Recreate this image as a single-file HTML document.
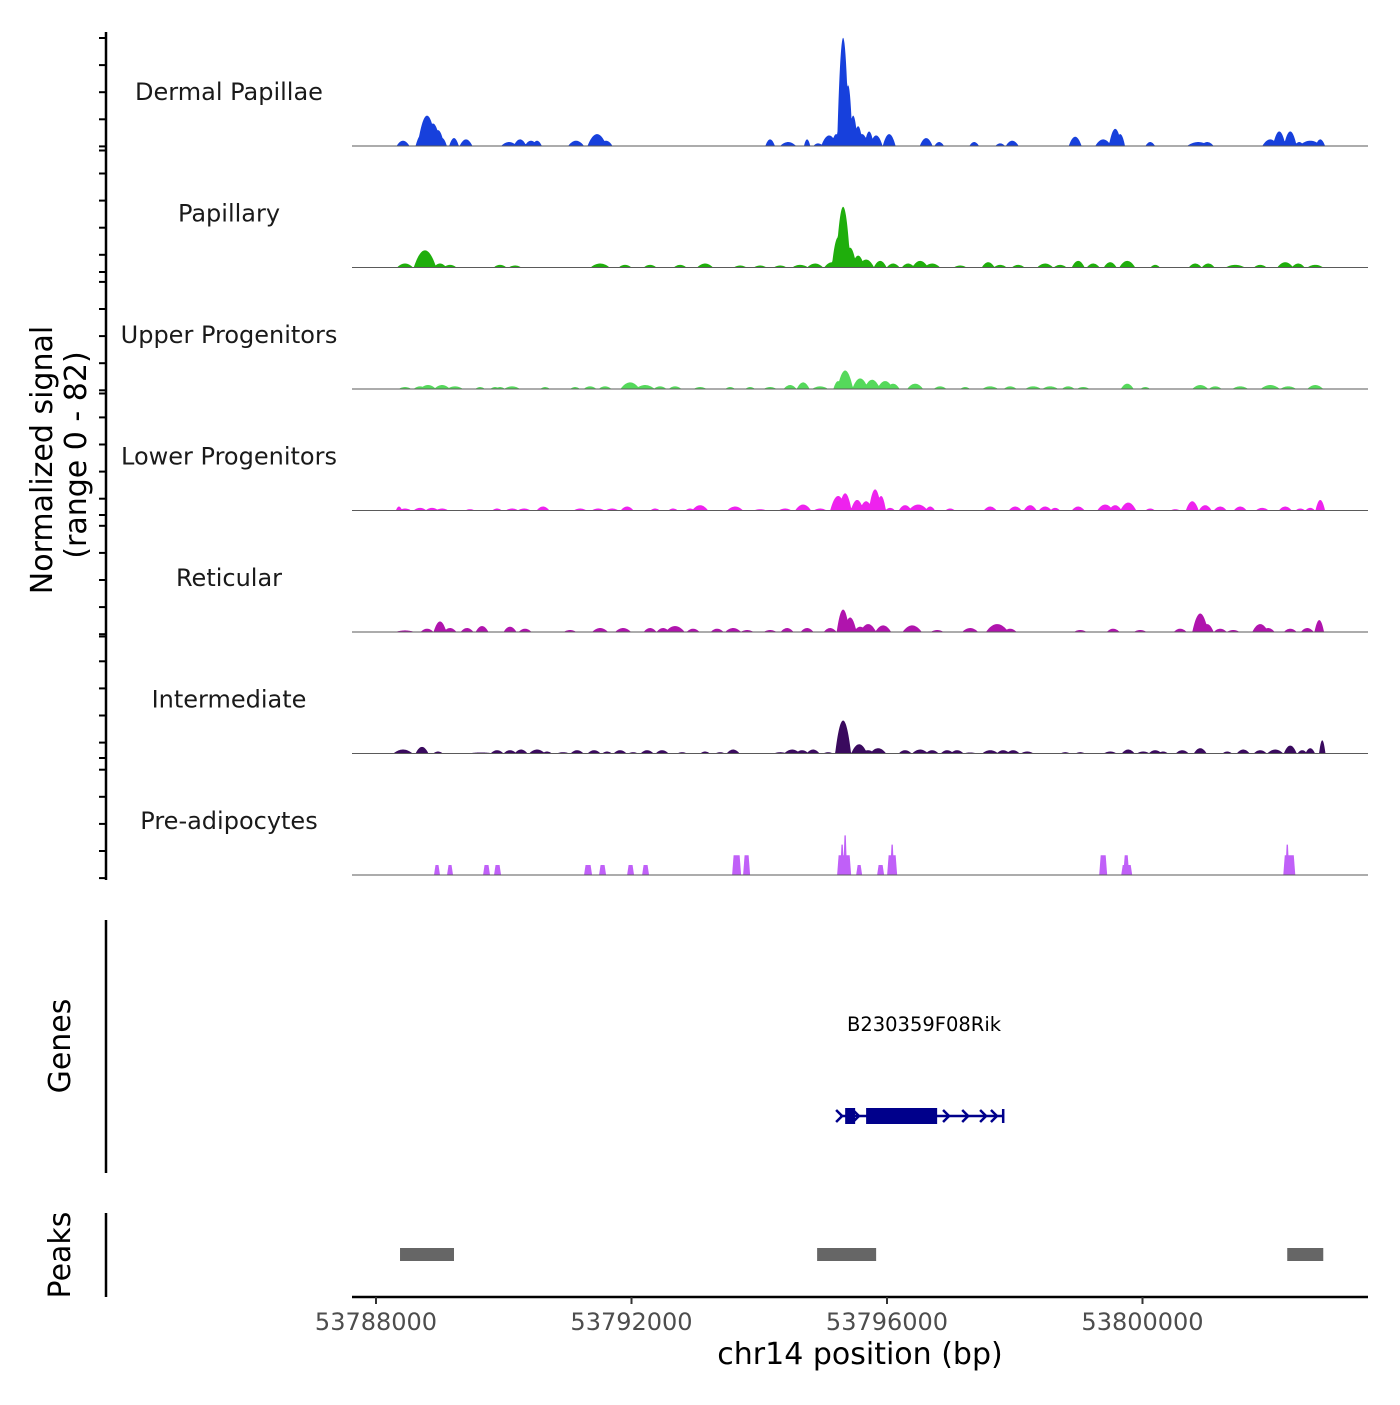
<!DOCTYPE html>
<html><head><meta charset="utf-8"><style>
body{margin:0;background:#fff}
svg text{font-family:"DejaVu Sans","Liberation Sans",sans-serif}
</style></head><body>
<svg id="chart" width="1400" height="1400" viewBox="0 0 1400 1400" xmlns="http://www.w3.org/2000/svg">
<rect width="1400" height="1400" fill="#fff"/>
<text transform="translate(52,460) rotate(-90)" text-anchor="middle" font-size="30" fill="#000">Normalized signal</text>
<text transform="translate(86,455) rotate(-90)" text-anchor="middle" font-size="30" fill="#000">(range 0 - 82)</text>
<line x1="106" y1="32" x2="106" y2="880" stroke="#000" stroke-width="2.5"/>
<line x1="106" y1="920" x2="106" y2="1173" stroke="#000" stroke-width="2.5"/>
<line x1="106" y1="1213" x2="106" y2="1297" stroke="#000" stroke-width="2.5"/>
<text transform="translate(70,1046) rotate(-90)" text-anchor="middle" font-size="30">Genes</text>
<text transform="translate(70,1255) rotate(-90)" text-anchor="middle" font-size="30">Peaks</text>
<g id="tracks"></g>
<g id="genes"></g>
<g id="peaks"></g>
<line x1="352" y1="1297" x2="1368" y2="1297" stroke="#000" stroke-width="2.5"/>
<g id="xaxis"></g>
<text x="860" y="1364" text-anchor="middle" font-size="30">chr14 position (bp)</text>
</svg>
<script>
// region origin: chr14:53788000 ; positions are bp offsets from it
const ORIGIN = 53788000;
const trackNames = ["Dermal Papillae","Papillary","Upper Progenitors","Lower Progenitors","Reticular","Intermediate","Pre-adipocytes"];
const trackColors = ["#1740dc","#1fae0c","#55d95b","#ee22ee","#b014ad","#3a0a5e","#c060f8"];
const xTicks = [53788000,53792000,53796000,53800000];
// Peak summits (bp offset), signal value, half-width (bp)
const dpPos = [423,720,799,893,971,1034,1221,1409,2083,2255,2427,2521,3132,3461,3602,6170,6452,6749,6922,7094,7204,7313,7392,7470,7548,7611,7720,7830,8034,8613,8817,9365,9772,9960,10946,11385,11573,11651,12121,12873,13013,14000,14141,14313,14454,14626,14783];
const dpVal = [4,9,23,17,12,6,6,5,3,5,4,4,4,9,4,5,3,5,2,8,9,82,46,23,15,9,11,8,9,6,3,3,2,4,7,5,13,9,3,3,3,5,11,11,3,4,5];
const dpWid = [63,63,94,78,63,47,47,63,78,63,63,47,78,94,63,47,78,31,47,78,47,63,47,47,47,63,47,63,63,63,47,47,47,63,63,78,63,47,47,110,63,78,63,63,47,110,47];
const paPos = [454,767,1002,1159,1942,2177,3508,3899,4291,4761,5152,5700,6013,6327,6640,6875,7141,7235,7313,7423,7548,7673,7893,8096,8331,8519,8707,9145,9584,9772,10054,10476,10711,10993,11228,11494,11761,12199,12825,13029,13452,13843,14235,14438,14705];
const paVal = [3,13,3,2,2,1.5,3,2,2,2,3,1.5,1.5,1.5,2,3,4,23,46,15,9,6,5,3,3,5,3,1.5,4,2,2,3,2,5,3,4,5,2,3,3,2,2,4,3,2];
const paWid = [78,110,63,63,63,63,94,63,63,63,78,63,63,63,78,78,78,63,78,63,63,78,63,63,63,78,78,63,63,63,63,78,63,63,63,63,78,47,63,63,94,63,78,63,78];
const upPos = [454,689,814,1034,1237,1629,1864,1942,2130,2647,3116,3351,3586,3978,4213,4447,4682,5074,5544,5857,6170,6483,6687,6953,7235,7345,7580,7767,7971,8096,8441,8832,9224,9615,9928,10289,10555,10837,11072,11761,12043,12904,13139,13530,14000,14282,14705];
const upVal = [1.5,2,3,3,2,1.5,1.5,1.5,2,1.5,1.5,2,2,5,3,2,2,1.5,1.5,1.5,1.5,3,5,2,6,14,8,7,6,4,4,2,1.5,2,2,2,2,2,1.5,4,1.5,3,2,2,3,2,3];
const upWid = [63,63,78,78,78,47,47,47,78,47,47,63,63,94,94,63,63,63,47,47,63,63,63,78,47,78,78,78,78,63,78,63,47,78,63,78,78,63,63,63,47,78,63,78,94,78,78];
const loPos = [360,454,689,877,1034,1472,1895,2130,2318,2615,3195,3477,3696,3931,4369,4651,4917,5074,5622,6013,6405,6687,6953,7235,7345,7533,7673,7814,7908,8049,8284,8488,8676,8989,9615,10007,10242,10476,10633,10993,11416,11573,11777,12121,12512,12779,12982,13217,13530,13874,14235,14470,14626,14783];
const loVal = [3,1.5,2,2,1.5,1,1.5,1.5,1.5,3,1.5,1.5,1.5,3,1.5,1.5,1.5,4,3,1,1.5,4.5,1.5,11,13,8,7,16,11,2,4,4.5,3,1.5,3,3,4,3,2,3,4.5,4,6,1.5,1,7,4,3,3,2,3,1.5,2,8];
const loWid = [31,63,63,63,63,47,47,63,63,63,63,63,63,63,47,47,47,78,78,63,63,78,63,78,63,63,63,63,47,47,63,94,47,47,63,63,63,63,47,63,78,63,78,47,47,63,63,63,63,63,63,47,47,47];
const rePos = [454,799,1002,1159,1425,1660,2098,2333,3038,3508,3868,4291,4494,4682,4964,5340,5591,5810,6170,6436,6749,7110,7313,7423,7580,7705,7940,8394,8785,9302,9725,9928,11025,11541,11964,12590,12904,13013,13217,13421,13843,13968,14313,14580,14767];
const reVal = [1.2,2.5,8,3,3,4.5,4,2.5,1.5,3,3,3,3,4.5,2.5,2.5,3,1.5,1.5,3,3,3,17,11,4,6,5,5,1.5,3,6,2.5,1.5,2.5,1.5,2.5,14,6,2.5,1.5,6,3,2.5,3,9];
const reWid = [94,63,63,63,63,63,63,63,63,78,78,63,63,94,63,63,78,63,63,63,63,63,63,63,63,78,78,94,63,78,110,63,63,63,63,63,78,63,63,63,78,63,63,63,47];
const inPos = [423,720,971,1644,1895,2098,2271,2521,2678,2928,3148,3414,3617,3821,4025,4244,4479,4792,5152,5387,5591,6327,6515,6671,6843,7078,7313,7564,7705,7861,8284,8519,8707,8942,9098,9302,9615,9819,9975,10195,10790,11025,11494,11776,12011,12199,12324,12622,12904,13327,13577,13843,14078,14313,14501,14626,14814];
const inVal = [3,5,1.5,0.8,2.5,2.5,3,3,1.5,1,2.5,2.5,1.5,2.5,1,2.5,2.5,1,1.5,1,3,1,3,2.5,3,1,25,7,2.5,4,2.5,3,2.5,2.5,2.5,0.8,2.5,2.5,2.5,1.5,1,1,1.5,3,1.5,2.5,1.5,2.5,4,1.5,3,2.5,3,6,2.5,4,10];
const inWid = [94,63,47,125,63,63,63,78,47,63,63,63,47,63,47,63,63,47,47,47,63,63,78,63,63,47,78,78,63,78,63,78,63,63,63,63,78,63,63,63,47,47,63,63,63,63,47,63,63,47,63,63,78,63,47,47,31];
// Pre-adipocytes: flat blocks (start bp, end bp, value)
const adStart = [908,1112,1676,1848,3257,3492,3931,4166,5575,5747,7219,7266,7313,7517,7845,8002,8049,11322,11667,11698,14204,14235];
const adEnd   = [1002,1206,1785,1958,3383,3602,4040,4275,5716,5857,7439,7329,7376,7611,7955,8159,8112,11447,11839,11792,14392,14298];
const adVal   = [7.6,7.6,7.6,7.6,7.6,7.6,7.6,7.6,15,15,15,23,30,7.6,7.6,15,23,15,7.6,15,15,23];
// genes and peaks
const geneStart = 7266, geneEnd = 9819;
const exonStart = [7345,7673], exonEnd = [7501,8785];
const peakStart = [376,6906,14266], peakEnd = [1221,7830,14830];

const NS="http://www.w3.org/2000/svg";
const X0=376, PXBP=255.5/4000;
function xs(off){return X0+off*PXBP;}
function xg(bp){return xs(bp-ORIGIN);}
const bases=[146,267.5,389,510.5,632,753.5,875];
const UNIT=1.32, WMUL=1.6;
function mk(tag,attrs,parent){const e=document.createElementNS(NS,tag);for(const k in attrs)e.setAttribute(k,attrs[k]);parent.appendChild(e);return e;}
const tracks=document.getElementById('tracks');
const bumpSets=[[dpPos,dpVal,dpWid],[paPos,paVal,paWid],[upPos,upVal,upWid],[loPos,loVal,loWid],[rePos,reVal,reWid],[inPos,inVal,inWid]];
const yax=document.getElementById('tracks');
for(let y=38;y<=880;y+=27.1){
  const t=mk('line',{x1:99,x2:106,y1:y,y2:y,stroke:'#000','stroke-width':2},yax);
  
  
}
bases.forEach((b,i)=>{
  if(i>0){const t=mk('line',{x1:99,x2:106,y1:b-117,y2:b-117,stroke:'#000','stroke-width':2},yax);
  
  }
});
for(let k=0;k<7;k++){
  const g=mk('g',{},tracks);
  
  
  const base=bases[k];
  const lab=mk('text',{x:229,y:base-46,'text-anchor':'middle','font-size':24,fill:'#1a1a1a'},g);
  lab.textContent=trackNames[k];
  
  
  let d='';
  if(k<6){
    const [P,V,W]=bumpSets[k];
    let pts=[];
    for(let x=352;x<=1368;x+=0.5){
      let v=0;
      for(let j=0;j<P.length;j++){const wm=V[j]>30?1.5:WMUL;const dx=Math.abs(x-xs(P[j]))/(W[j]*PXBP*wm);if(dx<1)v=Math.max(v,V[j]*(1-dx*dx));}
      pts.push([x,v]);
    }
    d='M352,'+base;
    pts.forEach(p=>{d+=' L'+p[0]+','+(base-p[1]*UNIT).toFixed(2);});
    d+=' L1368,'+base+' Z';
    const a=mk('path',{d:d,fill:trackColors[k]},g);
    
    
  } else {
    for(let j=0;j<adStart.length;j++){
      const x1=xs(adStart[j]),x2=xs(adEnd[j]),h=adVal[j]*UNIT,s=Math.min(1.5,(x2-x1)/3);
      const p=mk('path',{d:`M${x1},${base} L${x1+s},${base-h} L${x2-s},${base-h} L${x2},${base} Z`,fill:trackColors[k]},g);
      
      
    }
  }
  const bl=mk('line',{x1:352,x2:1368,y1:base,y2:base,stroke:'#5a5a5a','stroke-width':1},g);
  
  
}
const gg=document.getElementById('genes');
const gl=mk('text',{x:924,y:1031,'text-anchor':'middle','font-size':19.5,fill:'#000'},gg);
gl.textContent='B230359F08Rik';


const gy=1116, navy='#00008b';
const gline=mk('line',{x1:xs(geneStart),x2:xs(geneEnd),y1:gy,y2:gy,stroke:navy,'stroke-width':2.5},gg);


const gend=mk('line',{x1:xs(geneEnd),x2:xs(geneEnd),y1:gy-7,y2:gy+7,stroke:navy,'stroke-width':2.5},gg);


for(let j=0;j<exonStart.length;j++){
  const r=mk('rect',{x:xs(exonStart[j]),y:gy-8,width:xs(exonEnd[j])-xs(exonStart[j]),height:16,fill:navy},gg);
  
  
}
[7266,7530,8940,9240,9520,9690].forEach(o=>{
  const cx=xs(o);
  const c=mk('path',{d:`M${cx-4},${gy-6} L${cx+2},${gy} L${cx-4},${gy+6}`,fill:'none',stroke:navy,'stroke-width':2.5},gg);
  
  
});
const pg=document.getElementById('peaks');
for(let j=0;j<peakStart.length;j++){
  const r=mk('rect',{x:xs(peakStart[j]),y:1248,width:xs(peakEnd[j])-xs(peakStart[j]),height:13,fill:'#666'},pg);
  
  
}
const xa=document.getElementById('xaxis');
xTicks.forEach(t=>{
  const x=xg(t);
  const l=mk('line',{x1:x,x2:x,y1:1297,y2:1304,stroke:'#333','stroke-width':2},xa);
  
  
  const tx=mk('text',{x:x,y:1330,'text-anchor':'middle','font-size':24,fill:'#4d4d4d'},xa);
  tx.textContent=String(t);
  
  
});
</script>
</body></html>
